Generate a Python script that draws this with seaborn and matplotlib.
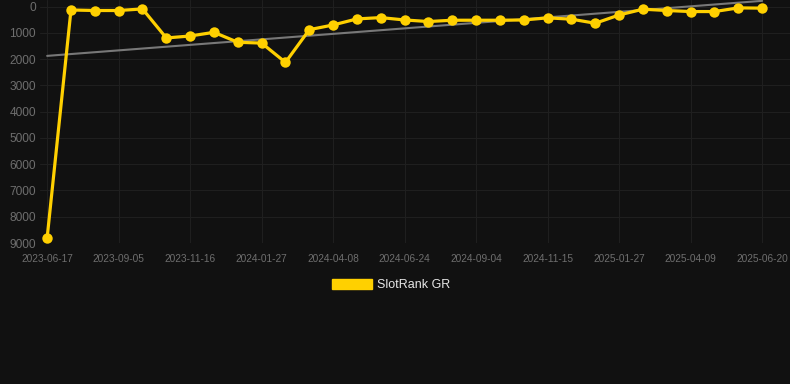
import numpy as np
import pandas as pd
import matplotlib
matplotlib.use("Agg")
import matplotlib.pyplot as plt
import seaborn as sns
from matplotlib.patches import Patch

# SlotRank GR - vi tri xep hang theo thoi gian
tick_labels = ['2023-06-17', '2023-09-05', '2023-11-16', '2024-01-27', '2024-04-08',
               '2024-06-24', '2024-09-04', '2024-11-15', '2025-01-27', '2025-04-09',
               '2025-06-20']
ranks = [8800, 130, 150, 150, 90, 1195, 1120, 980, 1360, 1390,
         2125, 880, 700, 470, 420, 510, 570, 520, 520, 520,
         510, 430, 480, 635, 320, 100, 150, 190, 190, 50, 60]
tick_step = 3

bg = '#111111'
yellow = '#FFD000'

df = pd.DataFrame({'idx': np.arange(len(ranks)), 'rank': ranks})

sns.set_style('dark')
plt.rcParams['font.family'] = ['Liberation Sans', 'DejaVu Sans']

fig = plt.figure(figsize=(7.9, 3.84), dpi=100, facecolor=bg)
ax = fig.add_axes([40 / 790, 141 / 384, 750 / 790, 243 / 384])
ax.set_facecolor(bg)

# duong xu huong
sns.regplot(data=df, x='idx', y='rank', scatter=False, ci=None, ax=ax,
            line_kws={'color': '#787878', 'linewidth': 1.5, 'zorder': 2})

sns.lineplot(data=df, x='idx', y='rank', ax=ax, color=yellow, linewidth=2.3,
             marker='o', markersize=7.5, markeredgewidth=0, zorder=3)

ax.set_xlim(-0.3, len(ranks) - 1 + 1.17)
ax.set_ylim(9000, -250)
ax.set_yticks(np.arange(0, 9001, 1000))
ax.set_yticklabels([str(v) for v in range(0, 9001, 1000)])
ax.set_xticks(np.arange(0, len(ranks), tick_step))
ax.set_xticklabels(tick_labels)

ax.grid(True, color='#1f1f1f', linewidth=0.8)
for s in ax.spines.values():
    s.set_visible(False)
ax.tick_params(axis='x', length=0, pad=8, labelsize=7.3, labelcolor='#6e6e6e')
ax.tick_params(axis='y', length=0, pad=3, labelsize=8.6, labelcolor='#6e6e6e')
ax.set_xlabel('')
ax.set_ylabel('')

handle = Patch(facecolor=yellow, edgecolor=yellow)
leg = fig.legend([handle], ['SlotRank GR'], loc='center', bbox_to_anchor=(0.495, 1 - 285 / 384),
                 frameon=False, fontsize=9, handlelength=3.2, handleheight=0.88,
                 handletextpad=0.45)
for t in leg.get_texts():
    t.set_color('#e6e6e6')

fig.savefig('out.png', dpi=100, facecolor=bg)
